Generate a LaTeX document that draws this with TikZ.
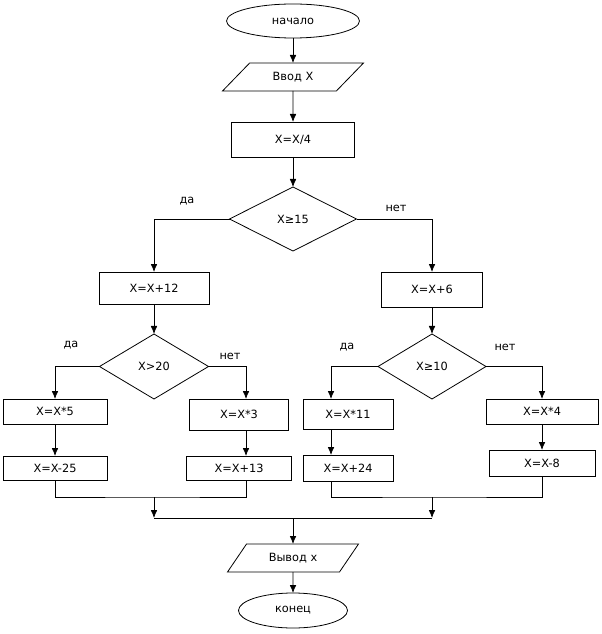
\documentclass[tikz,border=0pt]{standalone}
\usepackage{fontspec}
\setmainfont{DejaVu Sans}
\usetikzlibrary{arrows.meta,shapes.geometric}

\begin{document}
\begin{tikzpicture}[x=0.75pt,y=-0.75pt,line width=0.6pt,
every node/.style={font=\fontsize{8.5pt}{10pt}\selectfont,inner sep=0pt,outer sep=0pt},
term/.style={ellipse,draw},
io/.style={trapezium,trapezium left angle=45,trapezium right angle=135,trapezium stretches body,inner ysep=6.5pt,draw},
block/.style={rectangle,draw},
cond/.style={diamond,draw},
ans/.style={draw=none},
arr/.style={-{Latex[length=6pt,width=5pt]}}]

\useasboundingbox (0,0) rectangle (601,634);

% Nodes
\node[term,minimum width=99.75pt,minimum height=25.5pt] (start) at (293,21) {начало};
\node[io,minimum width=105.75pt,minimum height=21pt] (inp) at (293,77) {Ввод X};
\node[block,minimum width=92.25pt,minimum height=26.25pt] (b1) at (293,139.5) {X=X/4};
\node[cond,minimum width=95.25pt,minimum height=48pt] (d1) at (293,219) {X≥15};

\node[block,minimum width=82.5pt,minimum height=24pt] (b2) at (154,288) {X=X+12};
\node[block,minimum width=75.75pt,minimum height=26.25pt] (b3) at (432,289.5) {X=X+6};
\node[cond,minimum width=81.75pt,minimum height=48.75pt] (d2) at (154,366.5) {X>20};
\node[cond,minimum width=81pt,minimum height=48.75pt] (d3) at (432,366.5) {X≥10};

\node[block,minimum width=78pt,minimum height=18.75pt] (b4) at (55,411.5) {X=X*5};
\node[block,minimum width=78pt,minimum height=18pt] (b5) at (55,468) {X=X-25};
\node[block,minimum width=74.25pt,minimum height=23.25pt] (b6) at (239,414.5) {X=X*3};
\node[block,minimum width=78.75pt,minimum height=18pt] (b7) at (239,468) {X=X+13};
\node[block,minimum width=67.5pt,minimum height=22.5pt] (b8) at (348,414) {X=X*11};
\node[block,minimum width=67.5pt,minimum height=19.5pt] (b9) at (348,468) {X=X+24};
\node[block,minimum width=84pt,minimum height=18.75pt] (b10) at (542,411.5) {X=X*4};
\node[block,minimum width=79.5pt,minimum height=19.5pt] (b11) at (542,463) {X=X-8};

\node[io,trapezium left angle=55,trapezium right angle=125,minimum width=98.25pt,minimum height=21pt] (outp) at (293,558) {Вывод х};
\node[term,minimum width=81.75pt,minimum height=26.25pt] (stop) at (293,610.5) {конец};

\node[ans] (yes1) at (187,201) {да};
\node[ans] (no1) at (396,208) {нет};
\node[ans] (yes2) at (71,345) {да};
\node[ans] (no2) at (230,356) {нет};
\node[ans] (yes3) at (347,347) {да};
\node[ans] (no3) at (505,347) {нет};

\coordinate (jL) at (154,497);
\coordinate (jR) at (432,497);
\coordinate (jM) at (293,518);

%arcs
\path (start) edge[arr] (inp);
\path (inp) edge[arr] (b1);
\path (b1) edge[arr] (d1);
\draw[arr] (d1.west) -| (b2.north);
\draw[arr] (d1.east) -| (b3.north);
\path (b2) edge[arr] (d2);
\path (b3) edge[arr] (d3);

\draw[arr] (d2.west) -| (b4.north);
\draw[arr] (d2.east) -| ([xshift=5.25pt]b6.north);
\draw[arr] (d3.west) -| ([xshift=-12.75pt]b8.north);
\draw[arr] (d3.east) -| (b10.north);

\path (b4) edge[arr] (b5);
\draw[arr] ([xshift=5.25pt]b6.south) -- ([xshift=5.25pt]b7.north);
\draw[arr] ([xshift=-12.75pt]b8.south) -- ([xshift=-12.75pt]b9.north);
\path (b10) edge[arr] (b11);

\draw (b5.south) |- (jL) -| ([xshift=5.25pt]b7.south);
\draw ([xshift=-12.75pt]b9.south) |- (jR) -| (b11.south);
\draw[arr] (jL) -- (jL |- jM);
\draw[arr] (jR) -- (jR |- jM);
\draw (jL |- jM) -- (jR |- jM);
\path (jM) edge[arr] (outp);
\path (outp) edge[arr] (stop);

\end{tikzpicture}
\end{document}
